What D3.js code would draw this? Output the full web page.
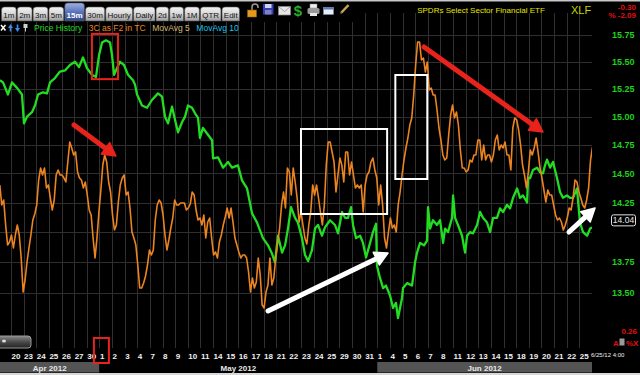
<!DOCTYPE html>
<html>
<head>
<meta charset="utf-8">
<script src="https://cdn.jsdelivr.net/npm/d3@7"></script>
<style>
html, body { margin: 0; padding: 0; background: #000; }
svg { display: block; }
</style>
</head>
<body>
<svg id="chart" width="640" height="375"></svg>
<script>
// ---- data ----
const tabs = ["1m", "2m", "3m", "5m", "15m", "30m", "Hourly", "Daily", "2d", "1w", "1M", "QTR", "Edit"];
const activeTab = "15m";

const dayLabels = ["20", "23", "24", "25", "26", "27", "30",
  "1", "2", "3", "4", "7", "8", "9", "10", "11", "14", "15", "16", "17", "18", "21", "22", "23", "24", "25", "29", "30", "31",
  "1", "4", "5", "6", "7", "8", "11", "12", "13", "14", "15", "18", "19", "20", "21", "22", "25"];
const months = ["Apr 2012", "May 2012", "Jun 2012"];
const monthFirstDay = [0, 7, 29];      // index into dayLabels
const shadedMonths = ["Apr 2012", "Jun 2012"];

const priceTicks = [13.5, 13.75, 14, 14.25, 14.5, 14.75, 15, 15.25, 15.5, 15.75];
const lastPrice = 14.04;
const change = "-0.30", changePct = "% -2.09", lowerValue = "0.26";

// price history: [trading day since Apr 20 open, price]
const priceHistory = [
  [-0.87, 15.33], [-0.63, 15.31], [-0.24, 15.20], [0.08, 15.31], [0.48, 15.26], [0.87, 15.20], [1.03, 14.94],
  [1.27, 15.00], [1.66, 15.04], [1.90, 15.10], [2.14, 15.20], [2.53, 15.22], [2.85, 15.21], [3.09, 15.31],
  [3.48, 15.35], [3.88, 15.41], [4.28, 15.42], [4.67, 15.47], [5.07, 15.50], [5.38, 15.45], [5.70, 15.54],
  [6.02, 15.44], [6.41, 15.38], [6.73, 15.36], [6.97, 15.56], [7.21, 15.68], [7.52, 15.70], [7.84, 15.68],
  [8.00, 15.56], [8.16, 15.38], [8.39, 15.44], [8.63, 15.50], [8.95, 15.47], [9.26, 15.38], [9.66, 15.33],
  [9.82, 15.29], [9.98, 15.20], [10.37, 15.10], [10.77, 15.08], [11.16, 15.15], [11.64, 15.21], [11.96, 15.18],
  [12.19, 15.00], [12.43, 14.94], [12.75, 15.09], [12.99, 14.97], [13.22, 14.86], [13.54, 14.95], [13.78, 15.00],
  [14.01, 15.10], [14.33, 15.08], [14.57, 15.03], [14.81, 14.99], [14.96, 14.81], [15.20, 14.90], [15.52, 14.85],
  [15.92, 14.79], [16.00, 14.63], [16.39, 14.64], [16.79, 14.55], [17.18, 14.60], [17.50, 14.55], [17.97, 14.57],
  [18.29, 14.44], [18.69, 14.37], [19.08, 14.16], [19.48, 14.08], [19.95, 13.95], [20.35, 13.89], [20.67, 13.82],
  [20.90, 13.75], [21.14, 13.97], [21.46, 13.83], [21.70, 13.89], [21.93, 14.03], [22.17, 14.21], [22.49, 14.12],
  [22.72, 14.08], [23.04, 13.95], [23.28, 13.81], [23.52, 13.76], [23.83, 13.85], [24.07, 14.03], [24.31, 14.06],
  [24.62, 13.97], [24.86, 14.04], [25.26, 14.10], [25.65, 14.06], [25.89, 13.99], [26.21, 14.17], [26.45, 14.12],
  [26.68, 14.12], [26.92, 14.21], [27.08, 14.06], [27.32, 13.95], [27.64, 13.97], [27.87, 13.91], [28.11, 13.79],
  [28.43, 13.91], [28.66, 14.00], [28.90, 14.07], [28.98, 13.72], [29.22, 13.62], [29.46, 13.54], [29.69, 13.56],
  [30.01, 13.48], [30.25, 13.38], [30.48, 13.42], [30.64, 13.30], [30.96, 13.46], [31.04, 13.54], [31.36, 13.58],
  [31.75, 13.56], [31.99, 13.75], [32.15, 13.83], [32.39, 13.91], [32.70, 13.89], [32.94, 13.93], [33.02, 14.21],
  [33.18, 14.03], [33.41, 14.10], [33.73, 14.06], [33.97, 14.10], [34.21, 13.91], [34.37, 14.03], [34.60, 14.00],
  [34.92, 14.12], [35.00, 14.31], [35.16, 14.12], [35.39, 14.06], [35.71, 13.97], [35.95, 13.83], [36.11, 13.97],
  [36.34, 14.00], [36.58, 13.99], [36.90, 14.06], [37.14, 14.17], [37.37, 14.12], [37.69, 14.08], [37.93, 14.00],
  [38.17, 14.12], [38.48, 14.12], [38.72, 14.20], [38.96, 14.17], [39.27, 14.23], [39.51, 14.20], [39.75, 14.29],
  [40.07, 14.37], [40.30, 14.29], [40.54, 14.31], [40.86, 14.25], [40.94, 14.46], [41.10, 14.46], [41.33, 14.53],
  [41.65, 14.55], [41.89, 14.51], [42.12, 14.50], [42.28, 14.57], [42.44, 14.62], [42.68, 14.55], [42.91, 14.60],
  [43.23, 14.46], [43.47, 14.34], [43.70, 14.29], [44.02, 14.31], [44.26, 14.29], [44.50, 14.29], [44.81, 14.37],
  [45.05, 14.08], [45.29, 14.00], [45.61, 13.97], [45.85, 14.03], [46.00, 14.04]
];

// 3C indicator, one value per hour (4 x 15m bars), no scale shown on the chart
const threeCStartBar = -23;
const threeCStepBars = 4;
const barsPerDay = 26;
const threeC = [
  14.5, 12.5, 13.0, 10.5, 8.5, 8.8, 9.5, 8.2, 9.5, 10.5, 9.5, 7.2, 3.8, 5.0, 6.8, 8.2, 9.5, 11.0, 11.6,
  12.5, 15.0, 16.2, 15.5, 16.2, 14.2, 14.5, 13.2, 12.0, 13.0, 15.5, 16.0, 15.5, 15.5, 15.2, 14.8, 16.8, 18.8,
  18.2, 17.5, 17.8, 15.8, 15.2, 15.0, 14.2, 14.8, 13.5, 12.0, 11.5, 9.2, 7.2, 9.2, 11.8, 14.0, 16.5,
  17.5, 16.8, 14.8, 13.8, 11.5, 10.0, 10.5, 12.8, 14.5, 15.2, 15.5, 13.5, 13.8, 12.2, 9.8, 9.2, 8.5, 6.5,
  4.2, 4.2, 4.7, 5.4, 6.5, 8.0, 7.5, 8.0, 11.0, 12.5, 13.0, 12.7, 11.5, 9.5, 8.0, 9.0, 10.2,
  11.2, 13.0, 12.5, 12.5, 12.7, 12.7, 12.7, 12.0, 12.2, 12.6, 13.8, 13.5, 12.0, 11.0, 11.2, 10.5, 11.5, 9.2,
  10.8, 11.2, 9.2, 7.5, 7.8, 7.2, 8.8, 9.5, 10.5, 11.3, 12.2, 11.2, 12.2, 10.8, 9.2, 8.5, 7.8,
  7.2, 7.5, 7.5, 7.2, 5.8, 3.8, 5.2, 4.2, 4.8, 7.2, 5.5, 2.5, 2.2, 3.8, 4.5, 7.2, 4.5, 5.2, 7.2, 8.8,
  10.2, 12.5, 13.8, 12.2, 16.2, 15.8, 13.5, 16.2, 14.8, 13.2, 10.8, 11.8, 10.5, 9.2, 8.6,
  10.5, 11.8, 14.5, 13.5, 14.5, 13.2, 11.8, 10.5, 12.5, 16.5, 18.8, 18.8, 17.8, 16.8, 13.8, 15.5, 17.2,
  16.5, 14.8, 17.8, 17.8, 15.5, 16.8, 15.5, 14.2, 14.5, 14.2, 14.5, 11.8, 14.5, 15.5, 15.8, 16.8, 17.2, 16.0,
  15.2, 12.5, 14.5, 12.5, 9.2, 8.2, 9.8, 11.2, 10.2, 10.5, 9.8, 12.5, 13.8, 15.5, 17.0, 18.2, 19.2,
  20.5, 21.2, 23.5, 26.5, 28.8, 28.8, 27.0, 27.2, 25.8, 26.8, 24.0, 24.2, 23.5, 23.5, 22.0, 20.2, 19.0, 17.5,
  17.0, 17.2, 19.5, 21.5, 22.5, 21.2, 21.8, 20.5, 18.0, 16.2, 16.2, 15.8, 16.0, 17.0, 16.8, 17.5, 17.5,
  19.0, 19.0, 17.0, 18.5, 17.0, 17.5, 17.5, 16.8, 17.5, 19.0, 19.5, 18.0, 18.5, 18.2, 18.8, 17.5, 17.5, 16.0,
  20.2, 21.2, 21.0, 20.0, 18.5, 16.5, 15.5, 14.2, 15.8, 18.0, 17.5, 18.2, 19.2, 17.8, 16.2, 15.2, 14.0,
  12.8, 14.0, 13.5, 13.5, 12.5, 11.5, 11.0, 11.2, 10.8, 10.0, 10.5, 11.2, 12.2, 12.0, 13.2, 15.0, 14.8, 13.8,
  13.2, 12.5, 12.2, 13.0, 14.2, 17.0, 18.3
];

const legend = [
  {name: "Price History", color: "#22dd22"},
  {name: "3C as F2 in TC", color: "#ec8420"},
  {name: "MovAvg 5", color: "#d6b870"},
  {name: "MovAvg 10", color: "#1cc4e8"}
];

// hand-drawn markup on the chart, in data units
const priceBoxes = [{t0: 6.41, t1: 8.47, p0: 15.34, p1: 15.76, color: "#e8231c"}];
const threeCBoxes = [
  {t0: 22.96, t1: 29.78, v0: 11.6, v1: 20.1, color: "#ffffff"},
  {t0: 30.43, t1: 32.96, v0: 15.1, v1: 25.5, color: "#ffffff"}
];
const arrows = [
  {from: [4.99, 20.5], to: [8.31, 17.4], color: "#e8231c"},
  {from: [32.70, 28.3], to: [42.12, 19.8], color: "#e8231c"},
  {from: [20.35, 1.9], to: [29.85, 7.7], color: "#ffffff"},
  {from: [44.18, 9.8], to: [46.24, 12.2], color: "#ffffff"}
];
const markedDay = 7;

// ---- layout ----
const font = "'Liberation Sans', Arial, sans-serif";
const plot = {left: 0, right: 592, top: 13, bottom: 348};

const x = d3.scaleLinear().domain([-0.87, dayLabels.length]).range([plot.left, plot.right]);
const yPrice = d3.scaleLog().domain([13.5, 15.75]).range([293, 35]);
const y3c = d3.scaleLinear().domain([0, 31]).range([330, 20]);

const svg = d3.select("#chart").attr("font-family", font);

const defs = svg.append("defs");
const grad = (id, stops) => {
  const g = defs.append("linearGradient").attr("id", id).attr("x1", 0).attr("y1", 0).attr("x2", 0).attr("y2", 1);
  stops.forEach(([o, c]) => g.append("stop").attr("offset", o).attr("stop-color", c));
};
grad("tabGrad", [[0, "#f4f4f4"], [0.5, "#d6d6d6"], [1, "#9c9c9c"]]);
grad("tabActive", [[0, "#9db2e6"], [0.5, "#5a74bc"], [1, "#34488c"]]);
grad("scrollGrad", [[0, "#8a8a8a"], [0.5, "#4a4a4a"], [1, "#222"]]);
defs.append("clipPath").attr("id", "plotClip")
  .append("rect").attr("x", plot.left).attr("y", plot.top)
  .attr("width", plot.right - plot.left).attr("height", plot.bottom - plot.top);

svg.append("rect").attr("width", 640).attr("height", 375).attr("fill", "#000");

// grid
const grid = svg.append("g").attr("stroke", "#2f2f2f").attr("stroke-width", 1);
grid.selectAll(".v").data(d3.range(dayLabels.length)).join("line").attr("class", "v")
  .attr("x1", d => Math.round(x(d)) + 0.5).attr("x2", d => Math.round(x(d)) + 0.5)
  .attr("y1", plot.top).attr("y2", plot.bottom);
grid.selectAll(".h").data(priceTicks).join("line").attr("class", "h")
  .attr("x1", plot.left).attr("x2", plot.right)
  .attr("y1", d => Math.round(yPrice(d)) + 0.5).attr("y2", d => Math.round(yPrice(d)) + 0.5);

// series
const lines = svg.append("g").attr("clip-path", "url(#plotClip)").attr("fill", "none")
  .attr("stroke-linejoin", "round");

lines.append("path")
  .datum(priceHistory)
  .attr("stroke", legend[0].color)
  .attr("stroke-width", 2.3)
  .attr("d", d3.line().x(d => x(d[0])).y(d => yPrice(d[1])));

lines.append("path")
  .datum(threeC.map((v, i) => [(threeCStartBar + i * threeCStepBars) / barsPerDay, v]))
  .attr("stroke", legend[1].color)
  .attr("stroke-width", 1.6)
  .attr("d", d3.line().x(d => x(d[0])).y(d => y3c(d[1])));

// markup
const marks = svg.append("g").attr("fill", "none").attr("stroke-width", 2);
marks.selectAll(".pb").data(priceBoxes).join("rect").attr("class", "pb")
  .attr("x", d => x(d.t0)).attr("y", d => yPrice(d.p1))
  .attr("width", d => x(d.t1) - x(d.t0)).attr("height", d => yPrice(d.p0) - yPrice(d.p1))
  .attr("stroke", d => d.color);
marks.selectAll(".cb").data(threeCBoxes).join("rect").attr("class", "cb")
  .attr("x", d => x(d.t0)).attr("y", d => y3c(d.v1))
  .attr("width", d => x(d.t1) - x(d.t0)).attr("height", d => y3c(d.v0) - y3c(d.v1))
  .attr("stroke", d => d.color);

arrows.forEach(a => {
  const x1 = x(a.from[0]), y1 = y3c(a.from[1]), x2 = x(a.to[0]), y2 = y3c(a.to[1]);
  const ang = Math.atan2(y2 - y1, x2 - x1), len = 13, half = 7;
  const bx = x2 - len * Math.cos(ang), by = y2 - len * Math.sin(ang);
  const g = svg.append("g");
  g.append("line").attr("x1", x1).attr("y1", y1).attr("x2", bx).attr("y2", by)
    .attr("stroke", a.color).attr("stroke-width", 5).attr("stroke-linecap", "round");
  g.append("path")
    .attr("d", `M${x2},${y2}L${bx + half * Math.sin(ang)},${by - half * Math.cos(ang)}` +
      `L${bx - half * Math.sin(ang)},${by + half * Math.cos(ang)}Z`)
    .attr("fill", a.color).attr("stroke", a.color).attr("stroke-width", 1.5).attr("stroke-linejoin", "round");
});

// price axis (right)
const axis = svg.append("g").attr("font-size", 9).attr("font-weight", "bold").attr("fill", "#1ed21e");
axis.selectAll("text").data(priceTicks.filter(p => Math.abs(yPrice(p) - yPrice(lastPrice)) > 8)).join("text")
  .attr("x", 612).attr("y", d => yPrice(d)).attr("dy", "0.35em")
  .text(d => d.toFixed(2));

const lastY = yPrice(lastPrice) - 7;
svg.append("rect").attr("x", 611.5).attr("y", lastY - 5.5).attr("width", 24).attr("height", 11).attr("rx", 2)
  .attr("fill", "#000").attr("stroke", "#e0e0e0");
svg.append("text").attr("x", 623.5).attr("y", lastY).attr("dy", "0.35em").attr("text-anchor", "middle")
  .attr("font-size", 8.5).attr("fill", "#e8e8e8").text(lastPrice.toFixed(2));

// date axis
const dates = svg.append("g").attr("font-size", 8).attr("font-weight", "bold").attr("fill", "#f0f0f0");
dates.selectAll("text").data(dayLabels).join("text")
  .attr("x", (d, i) => x(i) + 0.5).attr("y", 358.5).text(d => d);
svg.append("text").attr("x", 591).attr("y", 357).attr("font-size", 6).attr("fill", "#f0f0f0").text("6/25/12 4:00");

const monthEdges = monthFirstDay.map((d, i) => [i === 0 ? x.domain()[0] : d, monthFirstDay[i + 1] ?? dayLabels.length]);
const monthG = svg.append("g");
monthG.selectAll("rect").data(months).join("rect")
  .attr("x", (d, i) => x(monthEdges[i][0])).attr("y", 362)
  .attr("width", (d, i) => x(monthEdges[i][1]) - x(monthEdges[i][0])).attr("height", 10.5)
  .attr("fill", d => shadedMonths.includes(d) ? "#545454" : "#000");
monthG.selectAll("text").data(months).join("text")
  .attr("x", (d, i) => (x(monthEdges[i][0]) + x(monthEdges[i][1])) / 2).attr("y", 370.5)
  .attr("text-anchor", "middle").attr("font-size", 8).attr("font-weight", "bold").attr("fill", "#e8e8e8")
  .text(d => d);
svg.append("rect").attr("x", 0).attr("y", 373).attr("width", 640).attr("height", 2).attr("fill", "#d8d8d8");

svg.append("rect").attr("x", x(markedDay) - 5.5).attr("y", 338).attr("width", 15).attr("height", 25)
  .attr("fill", "none").attr("stroke", "#e8231c").attr("stroke-width", 2);

// scroll handle
svg.append("rect").attr("x", -4).attr("y", 336).attr("width", 35).attr("height", 12).attr("rx", 3)
  .attr("fill", "url(#scrollGrad)").attr("stroke", "#9a9a9a");
svg.append("ellipse").attr("cx", 4).attr("cy", 341).attr("rx", 2).attr("ry", 1.6).attr("fill", "#ddd");

// bottom right readout
svg.append("text").attr("x", 637).attr("y", 334).attr("text-anchor", "end").attr("font-size", 8)
  .attr("font-weight", "bold").attr("fill", "#e01010").text(lowerValue);
const ctl = svg.append("g").attr("font-size", 8).attr("font-weight", "bold").attr("fill", "#e01010");
ctl.append("text").attr("x", 613).attr("y", 345.5).text("A");
ctl.append("rect").attr("x", 619.5).attr("y", 338.5).attr("width", 5).attr("height", 7).attr("fill", "#9a9a9a");
ctl.append("text").attr("x", 626).attr("y", 345.5).text("%");
ctl.append("text").attr("x", 633).attr("y", 345.5).text("X");

// ---- header ----
svg.append("rect").attr("x", 0).attr("y", 0).attr("width", 360).attr("height", 22).attr("fill", "#000");
svg.append("rect").attr("x", 0).attr("y", 0).attr("width", 640).attr("height", 1.5).attr("fill", "#c8c8c8");

let tx = 1.5;
tabs.forEach(name => {
  const active = name === activeTab;
  const g = svg.append("g");
  const path = g.append("path");
  const label = g.append("text").attr("font-size", 8).attr("y", 17.5)
    .attr("fill", active ? "#fff" : "#111").attr("font-weight", active ? "bold" : "normal").text(name);
  const w = label.node().getComputedTextLength() + 3.6;
  const top = active ? 3 : 7, r = 3;
  path.attr("d", `M${tx},21V${top + r}Q${tx},${top} ${tx + r},${top}H${tx + w - r}Q${tx + w},${top} ${tx + w},${top + r}V21Z`)
    .attr("fill", active ? "url(#tabActive)" : "url(#tabGrad)").attr("stroke", "#555").attr("stroke-width", 0.6);
  label.attr("x", tx + 1.8);
  tx += w + 1.1;
});

// toolbar icons
const ic = svg.append("g");
ic.append("path").attr("d", "M252,10V7a3,3 0 0 1 6,0V8").attr("fill", "none").attr("stroke", "#9a9a9a").attr("stroke-width", 1.5);
ic.append("rect").attr("x", 247.5).attr("y", 10).attr("width", 9).attr("height", 7).attr("fill", "#e39a1c").attr("stroke", "#9a5a00").attr("stroke-width", 0.5);
ic.append("rect").attr("x", 263).attr("y", 4).attr("width", 10.5).attr("height", 10.5).attr("fill", "#3440b8");
ic.append("rect").attr("x", 265).attr("y", 4).attr("width", 6.5).attr("height", 4).attr("fill", "#d0d4f0");
ic.append("rect").attr("x", 265).attr("y", 10).attr("width", 6.5).attr("height", 4.5).attr("fill", "#8080c0");
ic.append("rect").attr("x", 278.5).attr("y", 6.5).attr("width", 12).attr("height", 8.5).attr("fill", "#e6e6e6").attr("stroke", "#8a8a8a").attr("stroke-width", 0.7);
ic.append("path").attr("d", "M278.5,6.5L284.5,11.5L290.5,6.5").attr("fill", "none").attr("stroke", "#8a8a8a").attr("stroke-width", 0.7);
ic.append("text").attr("x", 298).attr("y", 15.5).attr("text-anchor", "middle").attr("font-size", 15).attr("font-weight", "bold").attr("fill", "#2aaa2a").text("$");
ic.append("rect").attr("x", 310).attr("y", 4).attr("width", 7).attr("height", 4).attr("fill", "#f0f0f0").attr("stroke", "#888").attr("stroke-width", 0.5);
ic.append("rect").attr("x", 307.5).attr("y", 8).attr("width", 12).attr("height", 6).attr("rx", 1.5).attr("fill", "#9a9a9a");
ic.append("rect").attr("x", 310).attr("y", 13).attr("width", 7).attr("height", 3).attr("fill", "#e8e8e8");
ic.append("rect").attr("x", 323.5).attr("y", 7.5).attr("width", 10).attr("height", 7).attr("fill", "#e8eef8").attr("stroke", "#7a8aa8").attr("stroke-width", 0.7);
ic.append("rect").attr("x", 323.5).attr("y", 7.5).attr("width", 10).attr("height", 2).attr("fill", "#5a7ac0");
ic.append("line").attr("x1", 341).attr("y1", 13).attr("x2", 348.5).attr("y2", 5).attr("stroke", "#c9a458").attr("stroke-width", 2.5);
ic.append("line").attr("x1", 340.3).attr("y1", 13.7).attr("x2", 341.5).attr("y2", 12.5).attr("stroke", "#444").attr("stroke-width", 2);

// legend row
const lg = svg.append("g");
lg.append("path").attr("d", "M1,25L5.5,30.5M5.5,25L1,30.5").attr("stroke", "#fff").attr("stroke-width", 1.5);
lg.append("path").attr("d", "M8,28L10.5,24L13,28H11.3V31.5H9.7V28Z").attr("fill", "#3a8ef0");
lg.append("path").attr("d", "M15,28L17.5,32L20,28H18.3V24.5H16.7V28Z").attr("fill", "#3a8ef0");
lg.append("rect").attr("x", 23.5).attr("y", 24).attr("width", 4).attr("height", 4).attr("fill", "#cfcfcf");
lg.append("line").attr("x1", 25.5).attr("y1", 28).attr("x2", 25.5).attr("y2", 31.5).attr("stroke", "#cfcfcf");
let lx = 34;
legend.forEach(item => {
  const t = lg.append("text").attr("x", lx).attr("y", 31).attr("font-size", 8.5).attr("fill", item.color).text(item.name);
  lx += t.node().getComputedTextLength() + 6.5;
});

// title block
svg.append("text").attr("x", 481).attr("y", 12.5).attr("text-anchor", "middle").attr("font-size", 8)
  .attr("fill", "#e6e600").text("SPDRs Select Sector Financial ETF");
svg.append("text").attr("x", 571).attr("y", 14).attr("font-size", 11).attr("fill", "#c6d400").text("XLF");
svg.append("text").attr("x", 636).attr("y", 10).attr("text-anchor", "end").attr("font-size", 8)
  .attr("font-weight", "bold").attr("fill", "#e01010").text(change);
svg.append("text").attr("x", 636).attr("y", 18).attr("text-anchor", "end").attr("font-size", 8)
  .attr("font-weight", "bold").attr("fill", "#e01010").text(changePct);
</script>
</body>
</html>
